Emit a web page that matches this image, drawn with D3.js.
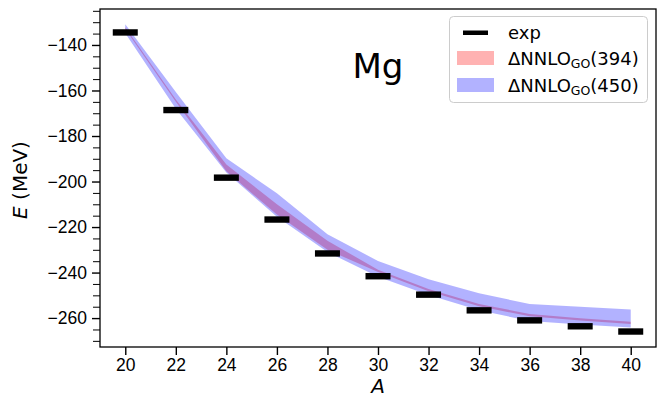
<!DOCTYPE html>
<meta charset="utf-8">
<style>
body { margin: 0; background: #fff; }
svg { font-family: "DejaVu Sans", sans-serif; }
.tick text { font-size: 17.5px; fill: #000; }
</style>
<svg width="660" height="397"></svg>
<script src="https://cdn.jsdelivr.net/npm/d3@7"></script>
<script>

// mass numbers of the Mg isotopes
var massNumbers = [20, 22, 24, 26, 28, 30, 32, 34, 36, 38, 40];

// experimental energies (MeV)
var expEnergy = [-134.5, -168.6, -198.3, -216.7, -231.6, -241.6, -249.7, -256.6, -261.0, -263.6, -265.9];

// DeltaNNLO_GO(394) band
var band394Lower = [-133.0, -164.9, -195.5, -214.5, -230.0, -239.8, -248.2, -254.8, -259.2, -261.1, -262.6];
var band394Upper = [-132.2, -164.0, -192.5, -210.0, -226.0, -238.8, -247.2, -253.8, -258.2, -260.1, -261.6];

// DeltaNNLO_GO(450) band
var band450Lower = [-134.8, -168.0, -196.0, -215.5, -231.0, -241.8, -249.9, -256.5, -261.3, -262.8, -264.1];
var band450Upper = [-130.9, -160.7, -189.8, -205.2, -223.2, -234.9, -242.9, -249.1, -253.8, -255.0, -256.2];

var xTicks = [20, 22, 24, 26, 28, 30, 32, 34, 36, 38, 40];
var yTicks = [-260, -240, -220, -200, -180, -160, -140];
var yMinorTicks = d3.range(-270, -124, 5);

var svg = d3.select("svg");

var x = d3.scaleLinear().domain([19, 41]).range([100, 656]);
var y = d3.scaleLinear().domain([-272.7, -124.2]).range([347, 9]);

function bandArea(lower, upper) {
  return d3.area()
    .x(function(d, i) { return x(massNumbers[i]); })
    .y0(function(d, i) { return y(lower[i]); })
    .y1(function(d, i) { return y(upper[i]); });
}

// bands: 394 first, 450 on top (both alpha 0.3)
svg.append("path")
    .datum(massNumbers)
    .attr("d", bandArea(band394Lower, band394Upper))
    .attr("fill", "red")
    .attr("fill-opacity", 0.3);

svg.append("path")
    .datum(massNumbers)
    .attr("d", bandArea(band450Lower, band450Upper))
    .attr("fill", "blue")
    .attr("fill-opacity", 0.3);

// experimental values as short horizontal bars
svg.append("g").selectAll("rect")
    .data(massNumbers)
  .enter().append("rect")
    .attr("x", function(d) { return x(d) - 12.5; })
    .attr("y", function(d, i) { return y(expEnergy[i]) - 3.2; })
    .attr("width", 25)
    .attr("height", 6.4)
    .attr("fill", "#000");

// axes
var xAxis = svg.append("g")
    .attr("transform", "translate(0,347)")
    .call(d3.axisBottom(x).tickValues(xTicks).tickSize(8).tickPadding(4));

var yAxis = svg.append("g")
    .attr("transform", "translate(100,0)")
    .call(d3.axisLeft(y).tickValues(yTicks).tickSize(8).tickPadding(5)
      .tickFormat(function(d) { return "\u2212" + Math.abs(d); }));

svg.append("g")
    .attr("transform", "translate(100,0)")
    .call(d3.axisLeft(y).tickValues(yMinorTicks.filter(function(d) { return d % 20 != 0; }))
      .tickSize(7).tickFormat(""))
    .call(function(g) { g.select(".domain").remove(); })
    .selectAll("line").attr("stroke-width", 1);

[xAxis, yAxis].forEach(function(g) {
  g.select(".domain").remove();
  g.selectAll(".tick line").attr("stroke-width", 1.4);
});

// frame
svg.append("rect")
    .attr("x", 100)
    .attr("y", 9)
    .attr("width", 556)
    .attr("height", 338)
    .attr("fill", "none")
    .attr("stroke", "#000")
    .attr("stroke-width", 1.3);

// axis labels
svg.append("text")
    .attr("x", x(30))
    .attr("y", 393)
    .attr("text-anchor", "middle")
    .style("font-size", "20px")
    .style("font-style", "italic")
    .text("A");

var yLabel = svg.append("text")
    .attr("transform", "translate(27,180) rotate(-90)")
    .attr("text-anchor", "middle")
    .style("font-size", "20px");
yLabel.append("tspan").style("font-style", "italic").text("E");
yLabel.append("tspan").text(" (MeV)");

// element name
svg.append("text")
    .attr("x", 378)
    .attr("y", 78)
    .attr("text-anchor", "middle")
    .style("font-size", "34px")
    .text("Mg");

// legend
var legend = svg.append("g");

legend.append("rect")
    .attr("x", 449.5)
    .attr("y", 16.5)
    .attr("width", 198)
    .attr("height", 86)
    .attr("rx", 4)
    .attr("fill", "#fff")
    .attr("fill-opacity", 0.8)
    .attr("stroke", "#ccc");

legend.append("rect")
    .attr("x", 463)
    .attr("y", 30.5)
    .attr("width", 25)
    .attr("height", 4.5)
    .attr("fill", "#000");

legend.append("rect")
    .attr("x", 457).attr("y", 51).attr("width", 37).attr("height", 14)
    .attr("fill", "red").attr("fill-opacity", 0.3);

legend.append("rect")
    .attr("x", 457).attr("y", 78).attr("width", 37).attr("height", 14)
    .attr("fill", "blue").attr("fill-opacity", 0.3);

var legendLabels = [["exp"], ["\u0394NNLO", "GO", "(394)"], ["\u0394NNLO", "GO", "(450)"]];
var legendY = [38.5, 64.5, 91.5];

legendLabels.forEach(function(parts, i) {
  var t = legend.append("text")
      .attr("x", 508)
      .attr("y", legendY[i])
      .style("font-size", "18px");
  t.append("tspan").text(parts[0]);
  if (parts.length > 1) {
    t.append("tspan").attr("dy", 3).style("font-size", "12.5px").text(parts[1]);
    t.append("tspan").attr("dy", -3).text(parts[2]);
  }
});

</script>
